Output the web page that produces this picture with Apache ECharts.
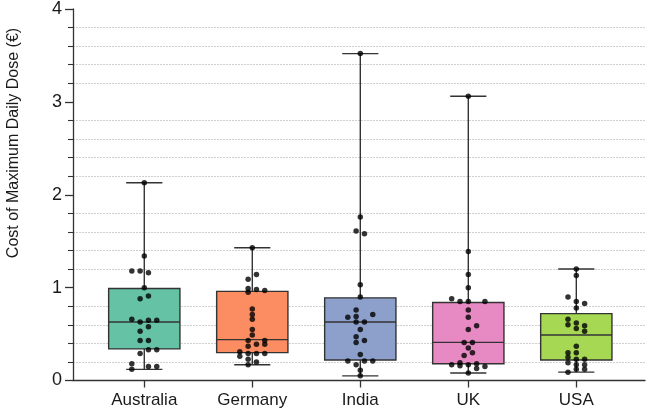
<!DOCTYPE html>
<html>
<head>
<meta charset="utf-8">
<script src="https://cdn.jsdelivr.net/npm/echarts@6/dist/echarts.min.js"></script>
<style>
  html, body { margin: 0; padding: 0; background: #fff; }
  #chart { width: 649px; height: 413px; }
</style>
</head>
<body>
<div id="chart"></div>
<script>
// categories and box summary (min, Q1, median, Q3, max)
var countries = ['Australia', 'Germany', 'India', 'UK', 'USA'];
var boxMin    = [0.12, 0.17, 0.05, 0.08, 0.09];
var boxQ1     = [0.34, 0.30, 0.22, 0.18, 0.22];
var boxMedian = [0.63, 0.44, 0.63, 0.41, 0.49];
var boxQ3     = [0.99, 0.96, 0.89, 0.84, 0.72];
var boxMax    = [2.13, 1.43, 3.52, 3.06, 1.20];

// individual points; lanes = beeswarm column of each dot
var australiaValues = [2.13, 1.34, 1.18, 1.18, 1.16, 1.00, 0.88, 0.91, 0.66, 0.63, 0.65, 0.65, 0.58, 0.53, 0.43, 0.43, 0.33, 0.33, 0.29, 0.18, 0.12, 0.15, 0.15];
var australiaLanes  = [0, 0, -1.5, -0.5, 0.5, 0, -0.5, 0.5, -1.5, -0.5, 0.5, 1.5, 0.5, -0.5, -0.5, 0.5, 0.5, 1.5, -0.5, -1.5, -1.5, 0.5, 1.5];
var germanyValues = [1.43, 1.14, 1.09, 0.99, 0.98, 0.97, 0.95, 0.77, 0.71, 0.66, 0.55, 0.49, 0.43, 0.43, 0.39, 0.39, 0.37, 0.31, 0.29, 0.29, 0.29, 0.26, 0.23, 0.20, 0.17];
var germanyLanes  = [0, 0.5, -0.5, -0.5, 0.5, 1.5, -0.5, 0, 0, 0, 0, 0, -0.5, 1.5, 0.5, 1.5, -0.5, -1.5, -0.5, 0.5, 1.5, -1.5, -0.5, 0.5, -0.5];
var indiaValues = [3.52, 1.76, 1.61, 1.58, 1.03, 0.90, 0.76, 0.71, 0.68, 0.69, 0.63, 0.63, 0.55, 0.47, 0.41, 0.43, 0.28, 0.21, 0.21, 0.21, 0.17, 0.11, 0.05];
var indiaLanes  = [0, 0, -0.5, 0.5, 0, 0, -0.5, 1.5, -1.5, -0.5, -0.5, 0.5, 0, -0.5, -0.5, 0.5, 0, -1.5, 0.5, 1.5, -0.5, 0, 0];
var ukValues = [3.06, 1.39, 1.14, 1.00, 0.88, 0.85, 0.85, 0.85, 0.76, 0.68, 0.59, 0.55, 0.41, 0.41, 0.35, 0.30, 0.27, 0.17, 0.19, 0.16, 0.17, 0.18, 0.13, 0.15, 0.08];
var ukLanes  = [0, 0, 0, 0, -2, -1, 0, 2, 0, 0, 1, 0, -0.5, 0.5, 0, 0.5, -0.5, -2, -1, -1, 0, 1, 1, 2, 0];
var usaValues = [1.20, 1.13, 0.90, 0.85, 0.83, 0.78, 0.66, 0.60, 0.62, 0.56, 0.59, 0.53, 0.37, 0.30, 0.30, 0.25, 0.23, 0.23, 0.19, 0.17, 0.17, 0.12, 0.12, 0.09];
var usaLanes  = [0, 0, -1, 0, 1, 0, -1, -1, 0, 0, 1, 1, 0, -1, 0, -1, 0, 1, -1, 0, 1, 0, 1, -1];

var yTicks = [0, 1, 2, 3, 4];

var colors = ['#66C2A5', '#FC8D62', '#8DA0CB', '#E78AC3', '#A6D854'];
var LANE = 0.077; // lane width in category units
var FONT = '"Liberation Sans", Arial, Helvetica, sans-serif';
var INK = '#333';

var pointValues = [australiaValues, germanyValues, indiaValues, ukValues, usaValues];
var pointLanes = [australiaLanes, germanyLanes, indiaLanes, ukLanes, usaLanes];

var boxData = countries.map(function (c, i) {
    return [i, boxMin[i], boxQ1[i], boxMedian[i], boxQ3[i], boxMax[i]];
});
var dots = [];
pointValues.forEach(function (vals, i) {
    vals.forEach(function (v, k) {
        dots.push([i + pointLanes[i][k] * LANE, v]);
    });
});

var chart = echarts.init(document.getElementById('chart'), null, { renderer: 'canvas' });

var option = {
    animation: false,
    backgroundColor: '#fff',
    grid: { left: 73, right: 4, top: 7, bottom: 32.5 },
    graphic: [{
        type: 'text',
        x: 14, y: 143,
        rotation: Math.PI / 2,
        style: {
            text: 'Cost of Maximum Daily Dose (€)',
            font: '16px ' + FONT,
            fill: '#1a1a1a',
            align: 'center',
            verticalAlign: 'middle'
        }
    }],
    xAxis: {
        type: 'value',
        min: -0.66,
        max: 4.636,
        splitLine: { show: false },
        axisLine: { show: true, onZero: false, lineStyle: { color: INK, width: 1.3 } },
        axisTick: { show: true, length: 7, customValues: [0, 1, 2, 3, 4], lineStyle: { color: INK, width: 1.3 } },
        axisLabel: {
            customValues: [0, 1, 2, 3, 4],
            formatter: function (v) { return countries[Math.round(v)]; },
            color: '#1a1a1a', fontSize: 17, fontFamily: FONT, margin: 11
        }
    },
    yAxis: {
        type: 'value',
        min: yTicks[0],
        max: yTicks[yTicks.length - 1],
        interval: 1,
        axisLine: { show: true, onZero: false, lineStyle: { color: INK, width: 1.3 } },
        axisTick: { show: true, length: 8, lineStyle: { color: INK, width: 1.3 } },
        minorTick: { show: true, splitNumber: 5, length: 5, lineStyle: { color: INK, width: 1.1 } },
        splitLine: { show: false },
        minorSplitLine: { show: true, lineStyle: { color: '#cfcfcf', type: [2, 1], width: 1 } },
        axisLabel: { color: '#1a1a1a', fontSize: 18, fontFamily: FONT, margin: 11 }
    },
    series: [
        {
            type: 'custom',
            data: boxData,
            z: 2,
            renderItem: function (params, api) {
                var i = api.value(0);
                var pMin = api.coord([i, api.value(1)]);
                var pQ1 = api.coord([i, api.value(2)]);
                var pMed = api.coord([i, api.value(3)]);
                var pQ3 = api.coord([i, api.value(4)]);
                var pMax = api.coord([i, api.value(5)]);
                var band = api.size([1, 0])[0];
                var bw = band * 0.66, cw = band * 0.335;
                var x = pMed[0];
                var ln = { stroke: INK, lineWidth: 1.4 };
                return {
                    type: 'group',
                    children: [
                        { type: 'line', shape: { x1: x, y1: pMax[1], x2: x, y2: pQ3[1] }, style: ln },
                        { type: 'line', shape: { x1: x, y1: pQ1[1], x2: x, y2: pMin[1] }, style: ln },
                        { type: 'line', shape: { x1: x - cw / 2, y1: pMax[1], x2: x + cw / 2, y2: pMax[1] }, style: ln },
                        { type: 'line', shape: { x1: x - cw / 2, y1: pMin[1], x2: x + cw / 2, y2: pMin[1] }, style: ln },
                        { type: 'rect', shape: { x: x - bw / 2, y: pQ3[1], width: bw, height: pQ1[1] - pQ3[1] },
                          style: { fill: colors[i], stroke: INK, lineWidth: 1.4 } },
                        { type: 'line', shape: { x1: x - bw / 2, y1: pMed[1], x2: x + bw / 2, y2: pMed[1] }, style: ln }
                    ]
                };
            }
        },
        {
            type: 'scatter',
            data: dots,
            z: 5,
            symbol: 'circle',
            symbolSize: 5.5,
            itemStyle: { color: '#000' }
        }
    ]
};
chart.setOption(option);
</script>
</body>
</html>
